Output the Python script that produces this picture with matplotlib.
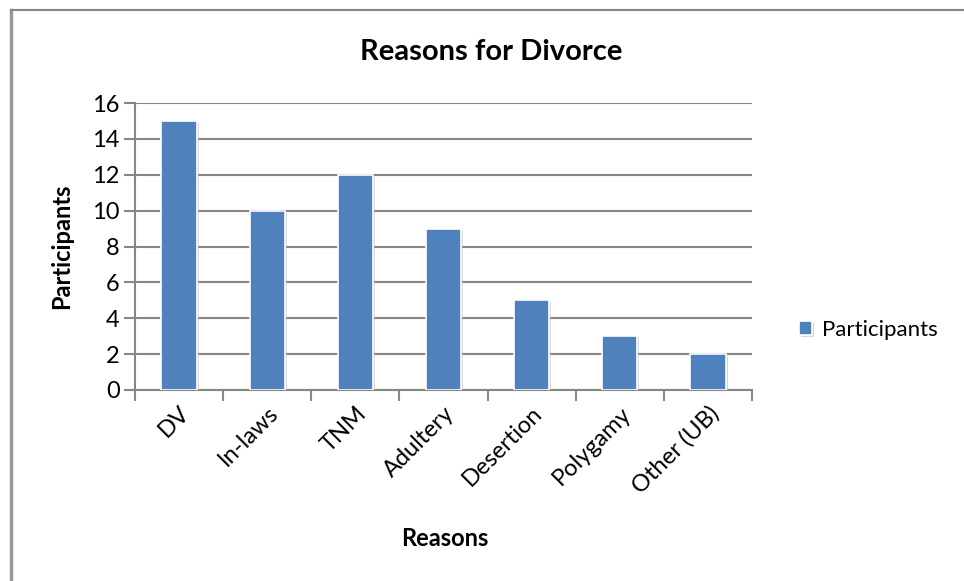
import matplotlib.pyplot as plt
import matplotlib.patheffects as pe
import numpy as np

# data
reasons = ['DV', 'In-laws', 'TNM', 'Adultery', 'Desertion', 'Polygamy', 'Other (UB)']
participants = [15, 10, 12, 9, 5, 3, 2]
yticks = [0, 2, 4, 6, 8, 10, 12, 14, 16]

plt.rcParams['font.family'] = ['Lato', 'DejaVu Sans']
grey = '#868686'
bar_col = '#4F81BD'

fig = plt.figure(figsize=(9.64, 5.81), dpi=100)
ax = fig.add_axes([135/964, 1-390/581, (752-135)/964, (390-103)/581])

x = np.arange(len(reasons))
bars = ax.bar(x, participants, width=0.4, color=bar_col, edgecolor='white',
              linewidth=1.2, zorder=3)
for b in bars:
    b.set_path_effects([pe.SimplePatchShadow(offset=(1.5, -1.5), shadow_rgbFace='#b0b0b0', alpha=0.5),
                        pe.Normal()])

ax.set_xlim(-0.5, len(reasons) - 0.5)
ax.set_ylim(0, 16)
ax.set_yticks(yticks)
ax.yaxis.grid(True, color=grey, linewidth=1.5, zorder=0)
ax.set_axisbelow(True)

# category ticks sit between bars
ax.set_xticks(np.arange(-0.5, len(reasons), 1.0))
ax.set_xticklabels([])
ax.set_xticks(x, minor=True)
ax.set_xticklabels(reasons, minor=True, rotation=45, ha='right', va='top',
                   rotation_mode='anchor', fontsize=17)
ax.tick_params(axis='x', which='minor', length=0, pad=9)
ax.tick_params(axis='x', which='major', length=8, width=1.5, color=grey, direction='out')
ax.tick_params(axis='y', length=8, width=1.5, color=grey, labelsize=17, pad=3)

for s in ['top', 'right']:
    ax.spines[s].set_visible(False)
for s in ['left', 'bottom']:
    ax.spines[s].set_color(grey)
    ax.spines[s].set_linewidth(1.5)

fig.text(491/964, 1-52/581, 'Reasons for Divorce', ha='center', va='center',
         fontsize=21, fontweight='bold')
fig.text(62/964, 1-246/581, 'Participants', ha='center', va='center',
         rotation=90, fontsize=17, fontweight='bold')
fig.text(445/964, 1-538/581, 'Reasons', ha='center', va='center',
         fontsize=17, fontweight='bold')

leg = fig.legend([bars[0]], ['Participants'], loc='center left',
                 bbox_to_anchor=(779/964, 1-330/581), frameon=False,
                 fontsize=16, handlelength=0.6, handleheight=0.6, handletextpad=0.45)

# outer frame: only top and left edges visible in the reference
fig.add_artist(plt.Line2D([11/964, 11/964], [0, 1-10/581], color='#999999', linewidth=2.5))
fig.add_artist(plt.Line2D([11/964, 963/964], [1-10/581, 1-10/581], color=grey, linewidth=1.5))

fig.savefig('out.png', dpi=100)
